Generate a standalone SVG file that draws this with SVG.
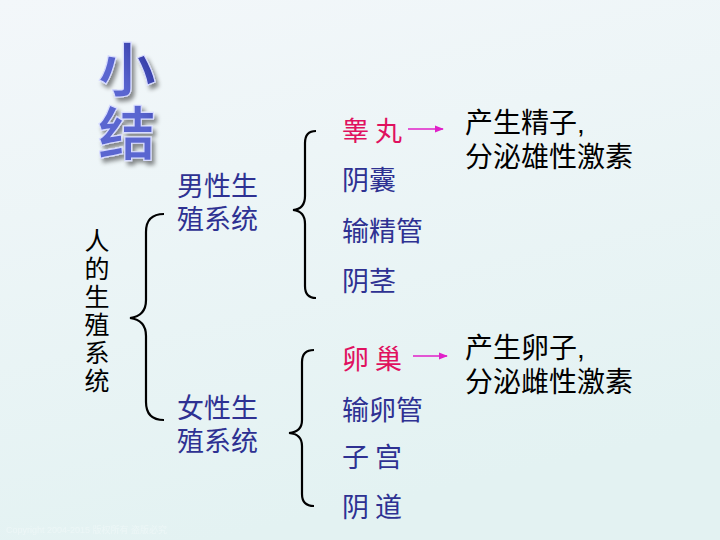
<svg xmlns="http://www.w3.org/2000/svg" width="720" height="540" viewBox="0 0 720 540">
<defs>
<linearGradient id="bg" x1="0" y1="0" x2="0.3" y2="1">
<stop offset="0" stop-color="#f3f7fa"/>
<stop offset="1" stop-color="#e3f2f2"/>
</linearGradient>
<linearGradient id="tg" gradientUnits="userSpaceOnUse" x1="95" y1="40" x2="160" y2="160">
<stop offset="0" stop-color="#5a66d0"/>
<stop offset="0.35" stop-color="#2a2f9a"/>
<stop offset="1" stop-color="#10146a"/>
</linearGradient>
<filter id="sh" x="-20%" y="-20%" width="150%" height="150%">
<feDropShadow dx="3" dy="4" stdDeviation="2" flood-color="#000" flood-opacity="0.45"/>
</filter>
<marker id="ah" viewBox="0 0 10 10" refX="9" refY="5" markerWidth="6" markerHeight="6" orient="auto">
<path d="M0,1 L10,5 L0,9 z" fill="#e020c8"/>
</marker>
<style>
text{font-family:"Noto Sans CJK SC","Noto Sans CJK TC",sans-serif;}
.t{font-size:58px;font-weight:bold;fill:url(#tg);stroke:#d8dcff;stroke-width:1.2;filter:url(#sh);writing-mode:vertical-rl;letter-spacing:6px;}
.v{font-size:25px;fill:#000;writing-mode:vertical-rl;letter-spacing:3px;}
.b{font-size:27px;fill:#2e3192;}
.r{font-size:27px;fill:#e0115f;}
.k{font-size:28px;fill:#000;}
.m{font-family:"Liberation Sans","Noto Sans CJK SC","Noto Sans CJK TC",sans-serif;}
.br{fill:none;stroke:#000;stroke-width:2.2;}
.ar{stroke:#e020c8;stroke-width:1.5;marker-end:url(#ah);}
.cp{font-size:9px;fill:#ffffff;opacity:0.3;font-family:"Liberation Sans","Noto Sans CJK SC",sans-serif;}
</style>
</defs>
<rect width="720" height="540" fill="url(#bg)"/>

<g id="title">
<text class="t" x="127" y="40">小结</text>
</g>

<g id="root">
<text class="v" x="97" y="228">人的生殖系统</text>
</g>

<g id="male">
<text class="b m" x="177" y="196">男性生<tspan x="177" dy="33">殖系统</tspan></text>
</g>
<g id="female">
<text class="b m" x="177" y="418">女性生<tspan x="177" dy="33">殖系统</tspan></text>
</g>

<g id="testis"><text class="r" x="342" y="141" xml:space="preserve">睾 丸</text></g>
<g id="scrotum"><text class="b" x="342" y="190">阴囊</text></g>
<g id="vasdeferens"><text class="b" x="342" y="241">输精管</text></g>
<g id="penis"><text class="b" x="342" y="291">阴茎</text></g>

<g id="ovary"><text class="r" x="342" y="369" xml:space="preserve">卵 巢</text></g>
<g id="oviduct"><text class="b" x="342" y="420">输卵管</text></g>
<g id="uterus"><text class="b" x="342" y="467" xml:space="preserve">子 宫</text></g>
<g id="vagina"><text class="b" x="342" y="517" xml:space="preserve">阴 道</text></g>

<g id="maleFunc">
<text class="k m" x="465" y="133">产生精子,<tspan x="465" dy="34">分泌雄性激素</tspan></text>
</g>
<g id="femaleFunc">
<text class="k m" x="465" y="358">产生卵子,<tspan x="465" dy="34">分泌雌性激素</tspan></text>
</g>

<g id="connectors">
<path class="br" d="M164,214 Q146,214 146,232 L146,300 Q146,316 130,318 Q146,320 146,336 L146,402 Q146,420 164,420"/>
<path class="br" d="M316,131 Q305,131 305,143 L305,196 Q305,209 293,210 Q305,211 305,224 L305,286 Q305,298 316,298"/>
<path class="br" d="M314,350 Q302,350 302,362 L302,420 Q302,432 289,433 Q302,434 302,446 L302,494 Q302,506 314,506"/>
<line class="ar" x1="408" y1="129" x2="443" y2="129"/>
<line class="ar" x1="413" y1="356" x2="447" y2="356"/>
</g>

<text class="cp" x="6" y="533">Copyright 2004-2015 版权所有 盗版必究</text>
</svg>
